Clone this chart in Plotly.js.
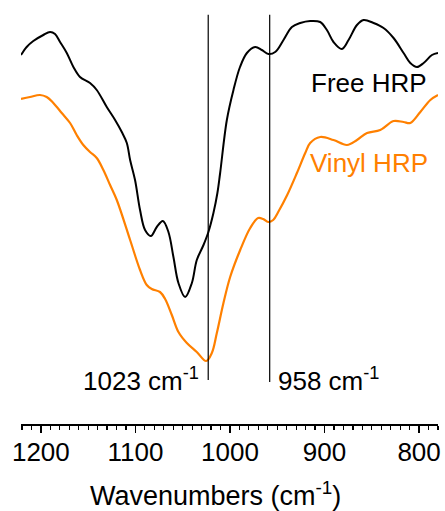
<!DOCTYPE html>
<html>
<head>
<meta charset="utf-8">
<script src="https://cdn.plot.ly/plotly-3.0.1.min.js"></script>
<style>html,body{margin:0;padding:0;background:#fff;}#chart{width:445px;height:511px;}</style>
</head>
<body>
<div id="chart"></div>
<script>
// Wavenumbers (cm^-1) and intensities (arbitrary units, offset for display)
const freeWn = [1221,1215,1208,1197.4,1190.3,1185,1179.7,1172.6,1165.6,1158.6,1148,1140.9,1130.3,1121.5,1114.4,1109.1,1105.6,1100.4,1095.1,1089.8,1083.7,1077.4,1071,1065.1,1059.8,1054.5,1047.4,1040.3,1035.1,1028,1022.8,1017.5,1013.3,1010.4,1003.3,996.3,989.4,982.1,973.4,966.3,959.3,952.2,943.4,934.5,925.7,915.2,904.6,897.5,890.5,881.6,874.6,865.7,858.7,848.2,837.6,827,816.4,809.3,802.2,795.2,786.4,780];
const freeVal = [369,377,383,389,392,390,382,371,357,347,341,334,317,304,292,281,264,244,214,194,188,197,203,192,167,141,127,141,164,179,192,211,231,251,304,334,357,371,377,374,370,372,384,397,401,403,402,394,382,375,384,399,404,401,396,386,371,361,357,361,369,371];
const vinylWn = [1221,1211.5,1200.9,1193.8,1186.8,1177.9,1169.1,1162.1,1155.1,1148,1140.9,1133.9,1126.8,1119.7,1105.6,1095.1,1088,1082.7,1074,1068.6,1061.5,1054.5,1045.6,1035.1,1025.2,1019.2,1013.9,1006.9,999.8,989.2,978.6,970.2,964.9,959.6,954.3,949,939.5,929.2,920.4,915.2,904.6,890.5,876.3,865.7,855.1,841.1,827,816.4,809.3,798.7,788.1,780];
const vinylVal = [325,327,329,327,321,311,301,289,279,272,266,254,239,224,184,154,139,135,132,125,109,92,81,72,63,71,91,121,147,174,196,206,205,202,204,212,229,251,271,281,287,284,279,284,291,294,303,302,301,312,324,329];
const seriesNames = ["Free HRP", "Vinyl HRP"];
const seriesColors = ["#000000", "#ff8000"];
const markerLines = [1023, 958];
const markerLabels = ["1023 cm<sup>-1</sup>", "958 cm<sup>-1</sup>"];
const xTitle = "Wavenumbers (cm<sup>-1</sup>)";

const font = "Arial, 'Liberation Sans', sans-serif";

const traces = [
  {x: freeWn, y: freeVal, name: seriesNames[0], mode: "lines",
   line: {color: seriesColors[0], width: 2, shape: "spline", smoothing: 1}},
  {x: vinylWn, y: vinylVal, name: seriesNames[1], mode: "lines",
   line: {color: seriesColors[1], width: 2.2, shape: "spline", smoothing: 1}}
];

const shapes = markerLines.map((w, i) => ({
  type: "line", xref: "x", yref: "paper", x0: w, x1: w,
  y0: i === 0 ? 0.104 : 0.099, y1: 0.965,
  line: {color: "#000", width: 1.2}
}));

const annotations = [
  {text: seriesNames[0], xref: "x", yref: "y", x: 790, y: 341, xanchor: "right", yanchor: "middle",
   showarrow: false, font: {family: font, size: 26, color: seriesColors[0]}},
  {text: seriesNames[1], xref: "x", yref: "y", x: 788, y: 261, xanchor: "right", yanchor: "middle",
   showarrow: false, font: {family: font, size: 26, color: seriesColors[1]}},
  {text: markerLabels[0], xref: "x", yref: "y", x: markerLines[0], y: 45, xanchor: "right", yanchor: "middle",
   xshift: -7, showarrow: false, font: {family: font, size: 26, color: "#000"}},
  {text: markerLabels[1], xref: "x", yref: "y", x: markerLines[1], y: 45, xanchor: "left", yanchor: "middle",
   xshift: 6, showarrow: false, font: {family: font, size: 26, color: "#000"}},
  {text: xTitle, xref: "paper", yref: "paper", x: 0.4656, y: -0.165, xanchor: "center", yanchor: "middle",
   showarrow: false, font: {family: font, size: 27, color: "#000"}}
];

const layout = {
  width: 445, height: 511,
  margin: {l: 21, r: 7, t: 0, b: 87},
  paper_bgcolor: "#fff", plot_bgcolor: "#fff",
  showlegend: false,
  xaxis: {
    range: [1221, 780], showgrid: false, zeroline: false,
    showline: true, linecolor: "#000", linewidth: 2,
    ticks: "outside", ticklen: 7, tickwidth: 1.5, tickcolor: "#000",
    tick0: 800, dtick: 100, ticklabelstandoff: -3,
    minor: {ticks: "outside", dtick: 10, ticklen: 4, tickwidth: 1.2, tickcolor: "#000"},
    tickfont: {family: font, size: 26, color: "#000"}
  },
  yaxis: {range: [0, 424], visible: false, fixedrange: true},
  shapes: shapes,
  annotations: annotations
};

Plotly.newPlot("chart", traces, layout, {displayModeBar: false, staticPlot: true});
</script>
</body>
</html>
